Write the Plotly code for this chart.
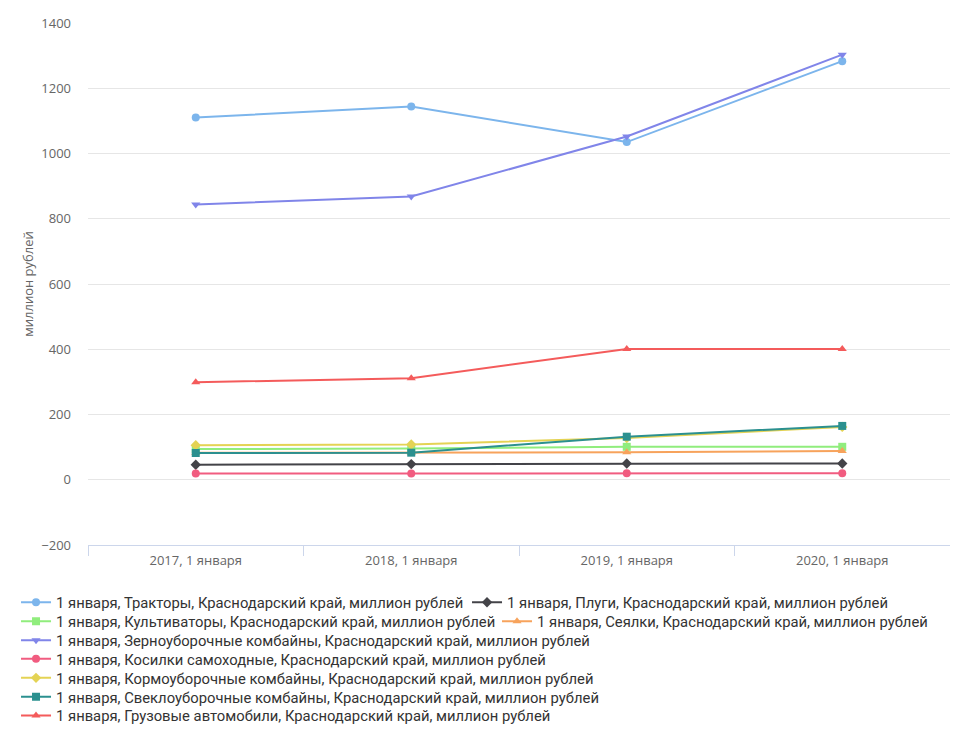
import plotly.graph_objects as go

categories = ["2017, 1 января", "2018, 1 января", "2019, 1 января", "2020, 1 января"]

series_names = [
    "1 января, Тракторы, Краснодарский край, миллион рублей",
    "1 января, Плуги, Краснодарский край, миллион рублей",
    "1 января, Культиваторы, Краснодарский край, миллион рублей",
    "1 января, Сеялки, Краснодарский край, миллион рублей",
    "1 января, Зерноуборочные комбайны, Краснодарский край, миллион рублей",
    "1 января, Косилки самоходные, Краснодарский край, миллион рублей",
    "1 января, Кормоуборочные комбайны, Краснодарский край, миллион рублей",
    "1 января, Свеклоуборочные комбайны, Краснодарский край, миллион рублей",
    "1 января, Грузовые автомобили, Краснодарский край, миллион рублей",
]

tractors = [1110, 1144, 1035, 1283]
ploughs = [46, 48, 50, 50]
cultivators = [94, 96, 101, 101]
seeders = [83, 83, 84, 88]
grain_harvesters = [844, 868, 1052, 1303]
mowers = [19, 19, 20, 20]
forage_harvesters = [106, 108, 128, 162]
beet_harvesters = [82, 83, 132, 165]
trucks = [299, 311, 401, 401]

values = [tractors, ploughs, cultivators, seeders, grain_harvesters,
          mowers, forage_harvesters, beet_harvesters, trucks]

colors = ["#7cb5ec", "#434348", "#90ed7d", "#f7a35c", "#8085e9",
          "#f15c80", "#e4d354", "#2b908f", "#f45b5b"]
symbols = ["circle", "diamond", "square", "triangle-up", "triangle-down",
           "circle", "diamond", "square", "triangle-up"]

# legend placement (paper coords): flow layout like the original
legend_pos = [
    (-0.0835, -0.1105), (0.4397, -0.1105),
    (-0.0835, -0.1468), (0.4745, -0.1468),
    (-0.0835, -0.1832),
    (-0.0835, -0.2188),
    (-0.0835, -0.2552),
    (-0.0835, -0.2915),
    (-0.0835, -0.3273),
]

fig = go.Figure()
legend_layout = {}
for i, (name, vals, c, s) in enumerate(zip(series_names, values, colors, symbols)):
    key = "legend" if i == 0 else f"legend{i + 1}"
    fig.add_trace(go.Scatter(
        x=categories, y=vals, name=name, mode="lines+markers",
        line=dict(color=c, width=2),
        marker=dict(color=c, symbol=s, size=8),
        legend=key,
    ))
    lx, ly = legend_pos[i]
    legend_layout[key] = dict(
        orientation="h", xref="paper", yref="paper",
        x=lx, y=ly, xanchor="left", yanchor="middle",
        font=dict(family="Roboto", size=14.8, color="#333333"),
        bgcolor="rgba(0,0,0,0)",
    )

fig.update_layout(
    width=950, height=737,
    margin=dict(l=80, r=8, t=15, b=200, autoexpand=False),
    paper_bgcolor="white", plot_bgcolor="white",
    font=dict(family="Open Sans", color="#666666", size=13),
    showlegend=True,
    **legend_layout,
)
fig.update_xaxes(
    type="category", range=[-0.5, 3.5],
    tickson="boundaries", ticks="outside", ticklen=10, tickcolor="#ccd6eb",
    showline=True, linecolor="#ccd6eb", linewidth=1, ticklabelstandoff=3,
    showgrid=False, tickfont=dict(size=13, color="#666666"),
)
fig.update_yaxes(
    range=[-200, 1400], dtick=200, tick0=0,
    showgrid=True, gridcolor="#e6e6e6", gridwidth=1,
    zeroline=True, zerolinecolor="#e6e6e6", zerolinewidth=1,
    showline=False, ticks="", ticklabelstandoff=16,
    title=dict(text="миллион рублей", font=dict(size=13, color="#666666"), standoff=4),
    tickfont=dict(size=13, color="#666666"),
)

fig.write_html("out.html")
